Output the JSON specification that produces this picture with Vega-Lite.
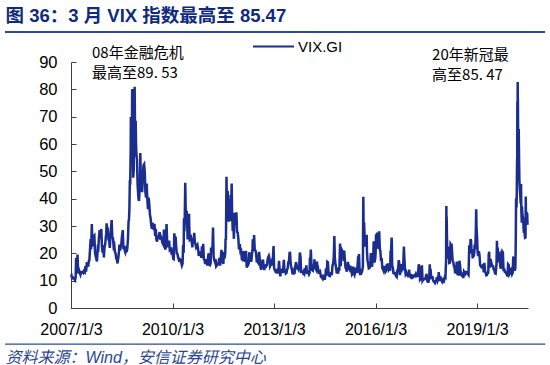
{
"$schema": "https://vega.github.io/schema/vega-lite/v6.json",
"width": 457, "height": 246,
"autosize": {"type": "none"},
"padding": {"left": 71, "top": 62, "right": 22, "bottom": 57},
"background": "white",
"config": {"view": {"stroke": null}, "font": "Liberation Sans"},
"resolve": {"axis": {"x": "independent", "y": "independent"}},
"layer": [
{"data": {"values": "d,v\n2007-01-03,11.8\n2007-01-08,12.0\n2007-01-15,10.9\n2007-01-22,11.2\n2007-02-01,10.9\n2007-02-08,10.6\n2007-02-15,10.2\n2007-02-22,11.1\n2007-02-27,18.3\n2007-03-01,15.2\n2007-03-08,13.5\n2007-03-14,19.6\n2007-03-22,12.6\n2007-04-01,13.7\n2007-04-08,12.9\n2007-04-15,12.2\n2007-04-22,13.1\n2007-05-01,13.0\n2007-05-08,13.2\n2007-05-15,12.9\n2007-05-22,13.5\n2007-06-01,13.1\n2007-06-08,15.3\n2007-06-15,13.3\n2007-06-22,16.3\n2007-07-01,16.2\n2007-07-08,15.1\n2007-07-15,17.3\n2007-07-20,17.4\n2007-07-26,20.7\n2007-07-31,23.5\n2007-08-03,25.2\n2007-08-08,21.5\n2007-08-16,30.7\n2007-08-22,22.5\n2007-08-29,25.0\n2007-09-05,26.2\n2007-09-12,26.5\n2007-09-19,20.4\n2007-09-26,19.0\n2007-10-03,18.0\n2007-10-10,17.0\n2007-10-19,22.0\n2007-10-25,21.7\n2007-11-01,26.0\n2007-11-08,28.5\n2007-11-15,25.5\n2007-11-26,28.9\n2007-12-03,22.5\n2007-12-10,20.3\n2007-12-17,23.0\n2007-12-24,18.5\n2007-12-31,22.5\n2008-01-07,23.2\n2008-01-14,26.0\n2008-01-18,27.2\n2008-01-22,31.0\n2008-01-29,27.8\n2008-02-05,28.2\n2008-02-12,25.0\n2008-02-19,24.5\n2008-02-26,22.0\n2008-03-04,26.5\n2008-03-10,29.4\n2008-03-17,32.2\n2008-03-24,25.8\n2008-03-31,25.6\n2008-04-07,22.5\n2008-04-14,23.0\n2008-04-21,20.5\n2008-04-28,20.0\n2008-05-05,18.2\n2008-05-12,17.6\n2008-05-19,16.3\n2008-05-27,18.2\n2008-06-02,20.0\n2008-06-09,23.2\n2008-06-16,21.0\n2008-06-23,22.5\n2008-06-30,23.9\n2008-07-07,26.5\n2008-07-15,28.5\n2008-07-22,21.5\n2008-07-29,22.7\n2008-08-05,21.0\n2008-08-12,20.3\n2008-08-19,21.3\n2008-08-26,20.5\n2008-09-02,22.0\n2008-09-09,25.5\n2008-09-15,31.7\n2008-09-19,32.1\n2008-09-24,35.7\n2008-09-29,46.7\n2008-10-03,45.1\n2008-10-08,57.5\n2008-10-10,69.9\n2008-10-13,54.9\n2008-10-16,67.6\n2008-10-20,52.9\n2008-10-24,79.1\n2008-10-27,80.1\n2008-10-31,59.9\n2008-11-04,47.7\n2008-11-10,50.5\n2008-11-14,66.3\n2008-11-20,80.9\n2008-11-24,64.7\n2008-11-28,55.3\n2008-12-01,68.5\n2008-12-05,59.9\n2008-12-10,55.7\n2008-12-15,54.3\n2008-12-22,44.9\n2008-12-31,40.0\n2009-01-06,39.2\n2009-01-12,42.8\n2009-01-16,46.1\n2009-01-20,56.7\n2009-01-26,45.7\n2009-02-02,45.4\n2009-02-09,42.4\n2009-02-17,48.7\n2009-02-23,52.2\n2009-03-02,52.6\n2009-03-09,49.7\n2009-03-16,42.4\n2009-03-23,40.4\n2009-03-30,45.5\n2009-04-06,39.7\n2009-04-13,36.2\n2009-04-20,40.4\n2009-04-27,37.9\n2009-05-04,34.1\n2009-05-11,32.9\n2009-05-18,30.2\n2009-05-26,29.0\n2009-06-01,31.2\n2009-06-08,29.8\n2009-06-15,28.5\n2009-06-22,30.8\n2009-06-29,26.4\n2009-07-06,29.0\n2009-07-13,25.0\n2009-07-20,24.3\n2009-07-27,25.9\n2009-08-03,25.9\n2009-08-10,26.8\n2009-08-17,27.8\n2009-08-24,25.0\n2009-08-31,26.0\n2009-09-08,25.3\n2009-09-14,24.0\n2009-09-21,23.5\n2009-09-28,25.6\n2009-10-02,28.7\n2009-10-09,23.1\n2009-10-16,21.4\n2009-10-23,22.3\n2009-10-30,30.7\n2009-11-06,24.2\n2009-11-13,23.4\n2009-11-20,22.2\n2009-11-27,24.7\n2009-12-04,21.3\n2009-12-11,21.6\n2009-12-18,21.7\n2009-12-24,19.5\n2009-12-31,21.7\n2010-01-06,19.2\n2010-01-11,18.0\n2010-01-15,17.9\n2010-01-22,27.3\n2010-01-29,24.6\n2010-02-05,26.1\n2010-02-11,22.7\n2010-02-17,20.0\n2010-02-24,19.9\n2010-03-03,18.7\n2010-03-10,17.9\n2010-03-17,16.9\n2010-03-24,17.8\n2010-03-31,17.6\n2010-04-07,16.6\n2010-04-14,15.6\n2010-04-21,16.3\n2010-04-27,23.0\n2010-05-03,20.2\n2010-05-06,32.8\n2010-05-10,28.0\n2010-05-14,31.2\n2010-05-20,45.8\n2010-05-24,37.9\n2010-05-28,32.1\n2010-06-04,35.5\n2010-06-08,33.7\n2010-06-15,25.1\n2010-06-22,27.0\n2010-06-30,34.5\n2010-07-02,30.1\n2010-07-08,24.9\n2010-07-15,25.1\n2010-07-22,25.6\n2010-07-29,24.1\n2010-08-05,22.2\n2010-08-11,25.4\n2010-08-18,24.6\n2010-08-25,27.5\n2010-09-01,23.9\n2010-09-08,23.3\n2010-09-15,22.1\n2010-09-22,22.5\n2010-09-29,23.0\n2010-10-06,21.5\n2010-10-13,19.1\n2010-10-20,19.9\n2010-10-27,20.7\n2010-11-03,19.6\n2010-11-10,18.4\n2010-11-16,22.6\n2010-11-24,19.6\n2010-11-30,23.5\n2010-12-07,17.9\n2010-12-14,17.6\n2010-12-21,16.1\n2010-12-31,17.8\n2011-01-06,17.1\n2011-01-13,15.5\n2011-01-20,18.4\n2011-01-28,20.0\n2011-02-04,15.9\n2011-02-11,15.7\n2011-02-18,16.4\n2011-02-22,22.1\n2011-03-01,20.7\n2011-03-08,20.2\n2011-03-16,29.4\n2011-03-22,18.9\n2011-03-29,17.6\n2011-04-05,16.9\n2011-04-12,17.9\n2011-04-19,15.3\n2011-04-26,15.6\n2011-05-03,15.9\n2011-05-10,16.0\n2011-05-17,17.1\n2011-05-24,18.3\n2011-05-31,15.5\n2011-06-07,18.1\n2011-06-15,21.3\n2011-06-21,18.9\n2011-06-28,17.2\n2011-07-05,16.1\n2011-07-12,20.6\n2011-07-19,18.2\n2011-07-26,20.2\n2011-07-29,25.3\n2011-08-02,24.8\n2011-08-04,31.7\n2011-08-08,48.0\n2011-08-10,42.9\n2011-08-15,32.9\n2011-08-18,42.7\n2011-08-22,42.4\n2011-08-26,35.6\n2011-09-01,31.6\n2011-09-08,33.3\n2011-09-15,31.9\n2011-09-22,41.3\n2011-09-29,38.8\n2011-10-03,45.5\n2011-10-07,36.2\n2011-10-14,28.2\n2011-10-21,31.3\n2011-10-27,25.3\n2011-11-01,34.8\n2011-11-08,30.2\n2011-11-16,32.9\n2011-11-23,35.0\n2011-11-30,27.8\n2011-12-07,27.6\n2011-12-14,25.4\n2011-12-21,21.4\n2011-12-30,23.4\n2012-01-06,20.6\n2012-01-13,20.9\n2012-01-20,18.3\n2012-01-27,18.5\n2012-02-03,17.1\n2012-02-10,20.8\n2012-02-17,17.8\n2012-02-24,17.3\n2012-03-02,17.3\n2012-03-06,20.9\n2012-03-13,14.8\n2012-03-20,15.6\n2012-03-27,15.6\n2012-04-04,16.4\n2012-04-10,20.4\n2012-04-17,18.5\n2012-04-24,18.1\n2012-05-01,16.9\n2012-05-08,19.1\n2012-05-15,21.9\n2012-05-18,25.1\n2012-05-25,21.8\n2012-06-01,26.7\n2012-06-08,21.2\n2012-06-15,21.1\n2012-06-22,20.1\n2012-06-29,17.1\n2012-07-06,17.1\n2012-07-13,16.7\n2012-07-20,18.6\n2012-07-25,20.5\n2012-08-01,18.0\n2012-08-08,15.3\n2012-08-15,14.0\n2012-08-22,15.1\n2012-08-29,17.1\n2012-09-05,17.7\n2012-09-12,15.3\n2012-09-19,13.9\n2012-09-26,15.9\n2012-10-03,14.6\n2012-10-10,16.0\n2012-10-17,15.2\n2012-10-24,17.5\n2012-10-31,18.6\n2012-11-07,19.1\n2012-11-15,17.9\n2012-11-21,15.3\n2012-11-28,15.8\n2012-12-05,16.6\n2012-12-12,15.6\n2012-12-19,17.4\n2012-12-28,22.7\n2013-01-03,14.6\n2013-01-10,13.8\n2013-01-17,13.6\n2013-01-24,12.7\n2013-01-31,14.3\n2013-02-07,13.5\n2013-02-14,12.7\n2013-02-21,15.2\n2013-02-25,17.3\n2013-03-04,13.9\n2013-03-11,11.6\n2013-03-18,14.4\n2013-03-25,13.7\n2013-04-01,13.6\n2013-04-08,12.8\n2013-04-18,17.6\n2013-04-25,13.6\n2013-05-02,13.6\n2013-05-09,12.6\n2013-05-16,12.8\n2013-05-23,14.1\n2013-05-30,14.5\n2013-06-05,16.7\n2013-06-12,17.1\n2013-06-20,20.5\n2013-06-24,20.1\n2013-07-01,16.2\n2013-07-08,14.8\n2013-07-15,13.8\n2013-07-22,12.3\n2013-07-29,13.4\n2013-08-05,12.7\n2013-08-12,12.8\n2013-08-19,15.1\n2013-08-27,16.8\n2013-09-03,15.6\n2013-09-10,14.5\n2013-09-17,14.4\n2013-09-24,14.0\n2013-10-01,15.5\n2013-10-08,20.3\n2013-10-15,18.7\n2013-10-22,13.3\n2013-10-29,13.4\n2013-11-05,13.3\n2013-11-12,12.8\n2013-11-19,13.4\n2013-11-26,12.8\n2013-12-03,14.6\n2013-12-10,13.9\n2013-12-17,15.6\n2013-12-24,12.5\n2013-12-31,13.7\n2014-01-07,12.9\n2014-01-14,12.3\n2014-01-21,12.9\n2014-01-24,18.1\n2014-01-31,18.4\n2014-02-03,21.4\n2014-02-10,15.8\n2014-02-18,13.9\n2014-02-25,13.7\n2014-03-03,16.0\n2014-03-10,14.2\n2014-03-14,17.8\n2014-03-21,15.0\n2014-03-28,14.4\n2014-04-04,13.9\n2014-04-11,17.0\n2014-04-18,13.4\n2014-04-25,14.1\n2014-05-02,12.9\n2014-05-09,12.9\n2014-05-15,13.2\n2014-05-23,11.4\n2014-05-30,11.4\n2014-06-06,11.0\n2014-06-13,12.2\n2014-06-20,10.9\n2014-06-27,11.3\n2014-07-03,10.3\n2014-07-10,11.8\n2014-07-17,14.5\n2014-07-24,11.8\n2014-07-31,16.9\n2014-08-07,16.7\n2014-08-14,12.4\n2014-08-21,11.8\n2014-08-28,11.7\n2014-09-04,12.6\n2014-09-11,12.8\n2014-09-18,12.0\n2014-09-25,15.6\n2014-10-02,16.2\n2014-10-09,18.8\n2014-10-15,26.3\n2014-10-20,18.6\n2014-10-27,16.0\n2014-11-03,14.7\n2014-11-10,12.7\n2014-11-17,13.3\n2014-11-24,12.6\n2014-12-01,14.3\n2014-12-08,14.2\n2014-12-16,23.6\n2014-12-22,15.3\n2014-12-31,19.2\n2015-01-06,21.1\n2015-01-13,20.6\n2015-01-20,19.9\n2015-01-27,17.2\n2015-01-30,21.0\n2015-02-06,17.3\n2015-02-13,14.7\n2015-02-20,14.3\n2015-02-27,13.3\n2015-03-06,15.2\n2015-03-11,16.9\n2015-03-18,13.9\n2015-03-25,15.4\n2015-04-01,15.1\n2015-04-08,13.1\n2015-04-17,13.9\n2015-04-24,12.3\n2015-05-01,12.7\n2015-05-07,15.1\n2015-05-14,12.7\n2015-05-21,12.1\n2015-05-28,13.3\n2015-06-04,14.7\n2015-06-11,13.2\n2015-06-18,13.2\n2015-06-29,18.9\n2015-07-02,16.8\n2015-07-08,19.7\n2015-07-15,13.2\n2015-07-22,12.1\n2015-07-29,13.4\n2015-08-05,13.0\n2015-08-12,13.6\n2015-08-19,15.3\n2015-08-21,28.0\n2015-08-24,40.7\n2015-08-25,36.0\n2015-08-28,26.1\n2015-09-01,31.4\n2015-09-08,24.9\n2015-09-15,22.5\n2015-09-22,24.4\n2015-09-29,26.8\n2015-10-02,20.9\n2015-10-08,17.4\n2015-10-15,16.1\n2015-10-22,14.5\n2015-10-29,14.6\n2015-11-05,15.0\n2015-11-13,20.1\n2015-11-19,16.9\n2015-11-26,15.1\n2015-12-03,18.1\n2015-12-08,17.6\n2015-12-14,24.4\n2015-12-22,16.6\n2015-12-31,18.2\n2016-01-04,20.7\n2016-01-08,27.0\n2016-01-13,25.2\n2016-01-20,27.6\n2016-01-27,23.1\n2016-02-03,21.7\n2016-02-11,28.1\n2016-02-18,21.6\n2016-02-24,20.7\n2016-03-02,17.1\n2016-03-09,18.3\n2016-03-16,14.5\n2016-03-23,14.2\n2016-03-30,13.6\n2016-04-06,15.4\n2016-04-13,13.8\n2016-04-20,13.3\n2016-04-27,13.8\n2016-05-04,16.1\n2016-05-11,14.7\n2016-05-18,16.3\n2016-05-25,13.9\n2016-06-01,14.2\n2016-06-08,14.1\n2016-06-13,20.9\n2016-06-17,19.4\n2016-06-24,25.8\n2016-06-27,23.9\n2016-06-30,15.6\n2016-07-07,14.8\n2016-07-14,12.8\n2016-07-21,12.7\n2016-07-28,12.8\n2016-08-04,12.4\n2016-08-11,11.7\n2016-08-18,11.4\n2016-08-25,13.6\n2016-09-01,13.5\n2016-09-09,17.5\n2016-09-15,16.3\n2016-09-22,12.0\n2016-09-29,14.0\n2016-10-06,13.0\n2016-10-13,16.1\n2016-10-20,13.8\n2016-10-27,15.4\n2016-11-04,22.5\n2016-11-08,18.7\n2016-11-15,14.5\n2016-11-22,12.4\n2016-11-29,12.9\n2016-12-06,11.8\n2016-12-13,12.6\n2016-12-20,11.2\n2016-12-30,14.0\n2017-01-05,11.7\n2017-01-12,11.5\n2017-01-19,12.5\n2017-01-26,10.6\n2017-02-02,11.9\n2017-02-09,10.9\n2017-02-16,11.8\n2017-02-23,11.7\n2017-03-02,11.8\n2017-03-09,12.3\n2017-03-16,11.2\n2017-03-22,12.8\n2017-03-29,11.4\n2017-04-05,12.9\n2017-04-13,16.0\n2017-04-21,14.6\n2017-04-27,10.4\n2017-05-04,10.7\n2017-05-11,10.6\n2017-05-17,15.6\n2017-05-24,10.0\n2017-05-31,10.4\n2017-06-07,10.4\n2017-06-14,10.6\n2017-06-21,10.8\n2017-06-29,11.4\n2017-07-06,12.5\n2017-07-13,9.9\n2017-07-20,9.6\n2017-07-27,9.6\n2017-08-03,10.4\n2017-08-10,16.0\n2017-08-15,12.0\n2017-08-18,14.3\n2017-08-24,11.7\n2017-08-31,10.6\n2017-09-07,11.6\n2017-09-14,10.4\n2017-09-21,9.7\n2017-09-28,9.6\n2017-10-05,9.2\n2017-10-12,9.9\n2017-10-19,10.1\n2017-10-26,11.3\n2017-11-02,9.9\n2017-11-09,10.5\n2017-11-15,13.1\n2017-11-22,9.9\n2017-11-29,10.7\n2017-12-06,11.0\n2017-12-13,10.2\n2017-12-20,9.7\n2017-12-29,11.0\n2018-01-05,9.2\n2018-01-12,10.2\n2018-01-19,11.3\n2018-01-26,11.1\n2018-01-30,14.8\n2018-02-02,17.3\n2018-02-05,37.3\n2018-02-06,29.9\n2018-02-08,33.5\n2018-02-12,25.6\n2018-02-15,19.1\n2018-02-22,18.7\n2018-03-01,22.5\n2018-03-08,16.5\n2018-03-15,16.6\n2018-03-22,23.3\n2018-03-28,22.9\n2018-04-02,23.6\n2018-04-06,21.5\n2018-04-13,17.4\n2018-04-20,16.9\n2018-04-27,15.4\n2018-05-04,14.8\n2018-05-11,12.7\n2018-05-18,13.4\n2018-05-29,17.0\n2018-06-05,12.4\n2018-06-12,12.3\n2018-06-19,12.3\n2018-06-26,17.3\n2018-07-03,15.6\n2018-07-10,12.6\n2018-07-17,12.1\n2018-07-24,12.4\n2018-07-31,13.0\n2018-08-07,10.9\n2018-08-14,13.3\n2018-08-21,12.9\n2018-08-28,12.5\n2018-09-04,13.2\n2018-09-11,13.2\n2018-09-18,12.8\n2018-09-25,12.4\n2018-10-02,12.1\n2018-10-10,22.96\n2018-10-15,21.3\n2018-10-19,19.9\n2018-10-24,25.2\n2018-10-29,24.7\n2018-11-05,19.9\n2018-11-12,20.5\n2018-11-16,18.1\n2018-11-23,21.5\n2018-11-29,18.8\n2018-12-04,20.7\n2018-12-07,23.2\n2018-12-14,21.6\n2018-12-20,28.4\n2018-12-24,36.1\n2018-12-27,30.0\n2019-01-03,25.5\n2019-01-08,20.5\n2019-01-15,19.0\n2019-01-22,20.8\n2019-01-29,19.1\n2019-02-05,15.6\n2019-02-12,15.4\n2019-02-19,14.9\n2019-02-26,14.8\n2019-03-05,14.7\n2019-03-08,16.1\n2019-03-15,13.0\n2019-03-22,16.5\n2019-03-29,13.7\n2019-04-05,12.8\n2019-04-12,12.0\n2019-04-19,12.1\n2019-04-26,12.7\n2019-05-03,12.9\n2019-05-08,19.4\n2019-05-13,20.6\n2019-05-16,15.3\n2019-05-22,14.8\n2019-05-29,17.9\n2019-06-03,17.0\n2019-06-10,15.9\n2019-06-17,15.4\n2019-06-24,15.3\n2019-07-01,14.1\n2019-07-08,13.9\n2019-07-15,12.7\n2019-07-22,12.6\n2019-07-31,16.1\n2019-08-05,24.6\n2019-08-08,16.9\n2019-08-14,22.1\n2019-08-22,16.7\n2019-08-26,19.3\n2019-09-03,19.7\n2019-09-10,15.2\n2019-09-17,14.4\n2019-09-24,17.1\n2019-10-02,20.6\n2019-10-08,20.3\n2019-10-15,13.5\n2019-10-22,14.5\n2019-10-29,13.2\n2019-11-05,13.1\n2019-11-12,12.7\n2019-11-19,12.9\n2019-11-26,11.5\n2019-12-03,16.0\n2019-12-10,15.7\n2019-12-17,12.3\n2019-12-24,12.7\n2019-12-31,13.8\n2020-01-03,14.0\n2020-01-08,13.5\n2020-01-15,12.4\n2020-01-22,12.9\n2020-01-27,18.2\n2020-01-31,18.8\n2020-02-05,15.2\n2020-02-12,13.7\n2020-02-19,14.4\n2020-02-21,17.1\n2020-02-24,25.0\n2020-02-27,39.2\n2020-02-28,40.1\n2020-03-03,36.8\n2020-03-06,41.9\n2020-03-09,54.5\n2020-03-10,47.3\n2020-03-12,75.5\n2020-03-13,57.8\n2020-03-16,82.7\n2020-03-17,75.9\n2020-03-18,76.5\n2020-03-20,66.0\n2020-03-24,61.7\n2020-03-27,65.5\n2020-03-31,53.5\n2020-04-03,46.8\n2020-04-08,43.4\n2020-04-13,41.2\n2020-04-17,38.2\n2020-04-21,45.4\n2020-04-24,35.9\n2020-04-29,31.2\n2020-05-01,37.2\n2020-05-06,34.1\n2020-05-12,33.0\n2020-05-15,31.9\n2020-05-20,28.0\n2020-05-27,28.0\n2020-06-03,25.7\n2020-06-08,25.8\n2020-06-11,40.8\n2020-06-12,36.1\n2020-06-16,33.7\n2020-06-19,35.1\n2020-06-24,33.8\n2020-06-26,34.7\n2020-06-30,30.4", "format": {"type": "csv", "parse": {"d": "date", "v": "number"}}},
 "mark": {"type": "line", "strokeWidth": 2.5},
 "encoding": {
  "x": {"field": "d", "type": "temporal",
   "scale": {"domain": [{"year": 2007, "month": 1, "date": 3}, {"year": 2020, "month": 7, "date": 5}]},
   "axis": {"values": [{"year": 2007, "month": 1, "date": 3}, {"year": 2010, "month": 1, "date": 3}, {"year": 2013, "month": 1, "date": 3}, {"year": 2016, "month": 1, "date": 3}, {"year": 2019, "month": 1, "date": 3}],
    "format": "%Y/%-m/%-d", "labelFontSize": 16, "labelColor": "#000000", "labelFont": "Liberation Sans", "labelFlush": false, "labelOverlap": false,
    "tickSize": -5, "tickColor": "#404040", "domainColor": "#404040", "labelPadding": 18, "grid": false,
    "title": "资料来源：Wind，安信证券研究中心", "titleX": -66, "titleY": 49, "titleAlign": "left", "titleAnchor": "start", "titleBaseline": "middle",
    "titleFontSize": 16, "titleFontStyle": "italic", "titleFontWeight": "normal", "titleColor": "#2a4596", "titleFont": "Liberation Sans, Noto Sans CJK SC"}},
  "y": {"field": "v", "type": "quantitative",
   "scale": {"domain": [0, 90]},
   "axis": {"values": [0, 10, 20, 30, 40, 50, 60, 70, 80, 90], "labelFontSize": 16.5, "labelColor": "#000000", "labelFont": "Liberation Sans", "labelOverlap": false,
    "tickSize": -5, "tickColor": "#404040", "domainColor": "#404040", "labelPadding": 19, "grid": false,
    "title": "图 36：3 月 VIX 指数最高至 85.47", "titleX": -66, "titleY": -47, "titleAngle": 0, "titleAlign": "left", "titleBaseline": "middle",
    "titleFontSize": 18.5, "titleFontWeight": "bold", "titleColor": "#0f2b80", "titleFont": "Liberation Sans, Noto Sans CJK SC"}},
  "color": {"datum": "VIX.GI", "scale": {"range": ["#1b2d8e"]},
   "legend": {"orient": "none", "legendX": 181, "legendY": -37, "title": null, "symbolType": "stroke", "symbolSize": 1681, "symbolStrokeWidth": 2,
    "labelFontSize": 15, "labelFont": "Liberation Sans", "labelColor": "#000000", "labelOffset": 3}}
 }},
{"data": {"values": [{}]},
 "mark": {"type": "rule", "color": "#2b4a9a", "strokeWidth": 2, "clip": false},
 "encoding": {"x": {"datum": {"year": 2005, "month": 1, "date": 21}, "type": "temporal", "axis": null}, "x2": {"datum": {"year": 2021, "month": 1, "date": 6}}, "y": {"datum": 101, "type": "quantitative", "axis": null}}},
{"data": {"values": [{}]},
 "mark": {"type": "rule", "color": "#2b4a9a", "strokeWidth": 1.3, "clip": false},
 "encoding": {"x": {"datum": {"year": 2005, "month": 1, "date": 21}, "type": "temporal", "axis": null}, "x2": {"datum": {"year": 2021, "month": 1, "date": 6}}, "y": {"datum": -13.2, "type": "quantitative", "axis": null}}},
{"data": {"values": [
  {"d": "2007-08-18", "v": 93.3, "t": "08年金融危机"},
  {"d": "2007-08-18", "v": 86.0, "t": "最高至89. 53"},
  {"d": "2017-09-04", "v": 92.6, "t": "20年新冠最"},
  {"d": "2017-09-04", "v": 85.2, "t": "高至85. 47"}]},
 "mark": {"type": "text", "align": "left", "baseline": "middle", "fontSize": 15, "font": "Noto Sans CJK SC", "color": "#000000"},
 "encoding": {"x": {"field": "d", "type": "temporal", "axis": null}, "y": {"field": "v", "type": "quantitative", "axis": null}, "text": {"field": "t"}}}
]
}
